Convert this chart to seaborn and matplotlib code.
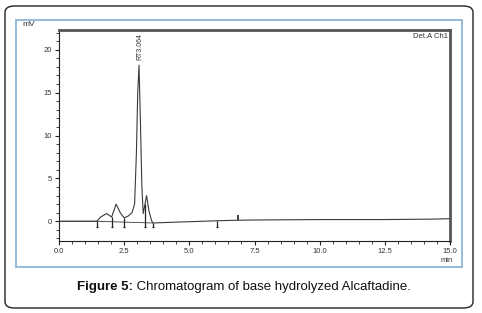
import numpy as np
import pandas as pd
import matplotlib
matplotlib.use("Agg")
import matplotlib.pyplot as plt
import seaborn as sns
from matplotlib.patches import FancyBboxPatch, Rectangle
from matplotlib.ticker import MultipleLocator, FormatStrFormatter

# ---- data ----
time_min = [0.0, 1.45, 1.6, 1.83, 2.02, 2.1, 2.19, 2.35, 2.5, 2.65, 2.8, 2.9,
            2.97, 3.02, 3.07, 3.12, 3.18, 3.23, 3.3, 3.36, 3.45, 3.55, 3.6,
            4.5, 5.5, 6.5, 7.5, 10.0, 12.5, 14.3, 15.0]
signal_mv = [0.0, 0.0, 0.5, 0.9, 0.5, 1.2, 2.0, 1.0, 0.4, 0.6, 1.0, 2.0,
             8.0, 15.0, 18.2, 12.0, 4.0, 0.9, 2.0, 3.0, 1.2, 0.1, -0.2,
             -0.1, 0.0, 0.1, 0.15, 0.2, 0.2, 0.25, 0.3]
baseline_t = [0.0, 1.45, 3.6]
baseline_v = [0.0, 0.0, -0.2]
event_marks = [1.45, 2.02, 2.5, 3.3, 3.6, 6.05]
up_marks = [6.85]
x_ticks = [0.0, 2.5, 5.0, 7.5, 10.0, 12.5, 15.0]
y_ticks = [0, 5, 10, 15, 20]
peak_label = "RT3.064"
peak_rt = 3.07
peak_height = 18.2

sns.set_style("white")
plt.rcParams['font.family'] = ['Liberation Sans', 'DejaVu Sans']

fig = plt.figure(figsize=(4.82, 3.13), dpi=100)

# outer rounded frame
W, H = 482, 313
outer = FancyBboxPatch((5 / W, 5 / H), 468 / W, 302 / H,
                       boxstyle="round,pad=0,rounding_size=0.02",
                       transform=fig.transFigure, fill=False,
                       edgecolor="#222222", linewidth=1.0)
fig.patches.append(outer)
inner = Rectangle((16 / W, 1 - 267 / H), 446 / W, 247 / H,
                  transform=fig.transFigure, fill=False,
                  edgecolor="#8db6d6", linewidth=1.3)
fig.patches.append(inner)

ax = fig.add_axes([59 / W, 1 - 241 / H, 391 / W, 211 / H])

df = pd.DataFrame({"time": time_min, "mV": signal_mv})
sns.lineplot(data=df, x="time", y="mV", ax=ax, color="#3a3a3a",
             linewidth=0.8, estimator=None, sort=False)
sns.lineplot(x=baseline_t, y=baseline_v, ax=ax, color="#3a3a3a",
             linewidth=0.6, estimator=None, sort=False)

# event markers (peak start/end marks)
for t in event_marks:
    v = float(np.interp(t, time_min, signal_mv))
    ax.vlines(t, -0.7, v, color="#222222", linewidth=0.9)
    ax.hlines(-0.7, t - 0.04, t + 0.04, color="#222222", linewidth=0.9)
for t in up_marks:
    v = float(np.interp(t, time_min, signal_mv))
    ax.vlines(t, v, v + 0.6, color="#222222", linewidth=1.2)

ax.text(peak_rt + 0.05, peak_height + 0.6, peak_label, rotation=90,
        fontsize=5, color="#333333", ha="center", va="bottom")
ax.text(0.995, 0.985, "Det.A Ch1", transform=ax.transAxes, fontsize=5.5,
        color="#333333", ha="right", va="top")

ax.set_xlim(0, 15)
ax.set_ylim(-2.3, 22.3)
ax.set_xticks(x_ticks)
ax.set_yticks(y_ticks)
ax.xaxis.set_major_formatter(FormatStrFormatter("%.1f"))
ax.xaxis.set_minor_locator(MultipleLocator(0.5))
ax.yaxis.set_minor_locator(MultipleLocator(1))
ax.tick_params(axis="both", which="major", direction="out", length=3,
               width=0.8, labelsize=5.5, labelcolor="#333333", color="#222222", pad=2)
ax.tick_params(axis="both", which="minor", direction="out", length=2,
               width=0.6, color="#222222")
ax.tick_params(axis="x", bottom=True, which="both")
ax.tick_params(axis="y", left=True, which="both")
ax.set_xlabel("")
ax.set_ylabel("")
for side in ["left", "bottom"]:
    ax.spines[side].set_color("#222222")
    ax.spines[side].set_linewidth(0.8)
for side in ["top", "right"]:
    ax.spines[side].set_color("#555555")
    ax.spines[side].set_linewidth(2.0)

fig.text(22 / W, 1 - 25 / H, "mV", fontsize=6, color="#333333", ha="left", va="center")
fig.text(447 / W, 1 - 260 / H, "min", fontsize=5.5, color="#333333", ha="center", va="center")

t1 = fig.text(77 / W, 1 - 287 / H, "Figure 5:", fontsize=9.5, fontweight="bold",
              color="#111111", ha="left", va="center")
ax.annotate(" Chromatogram of base hydrolyzed Alcaftadine.", xy=(1, 0.5),
            xycoords=t1, fontsize=9.5, color="#111111", ha="left", va="center",
            annotation_clip=False)

fig.savefig("out.png", dpi=100)
